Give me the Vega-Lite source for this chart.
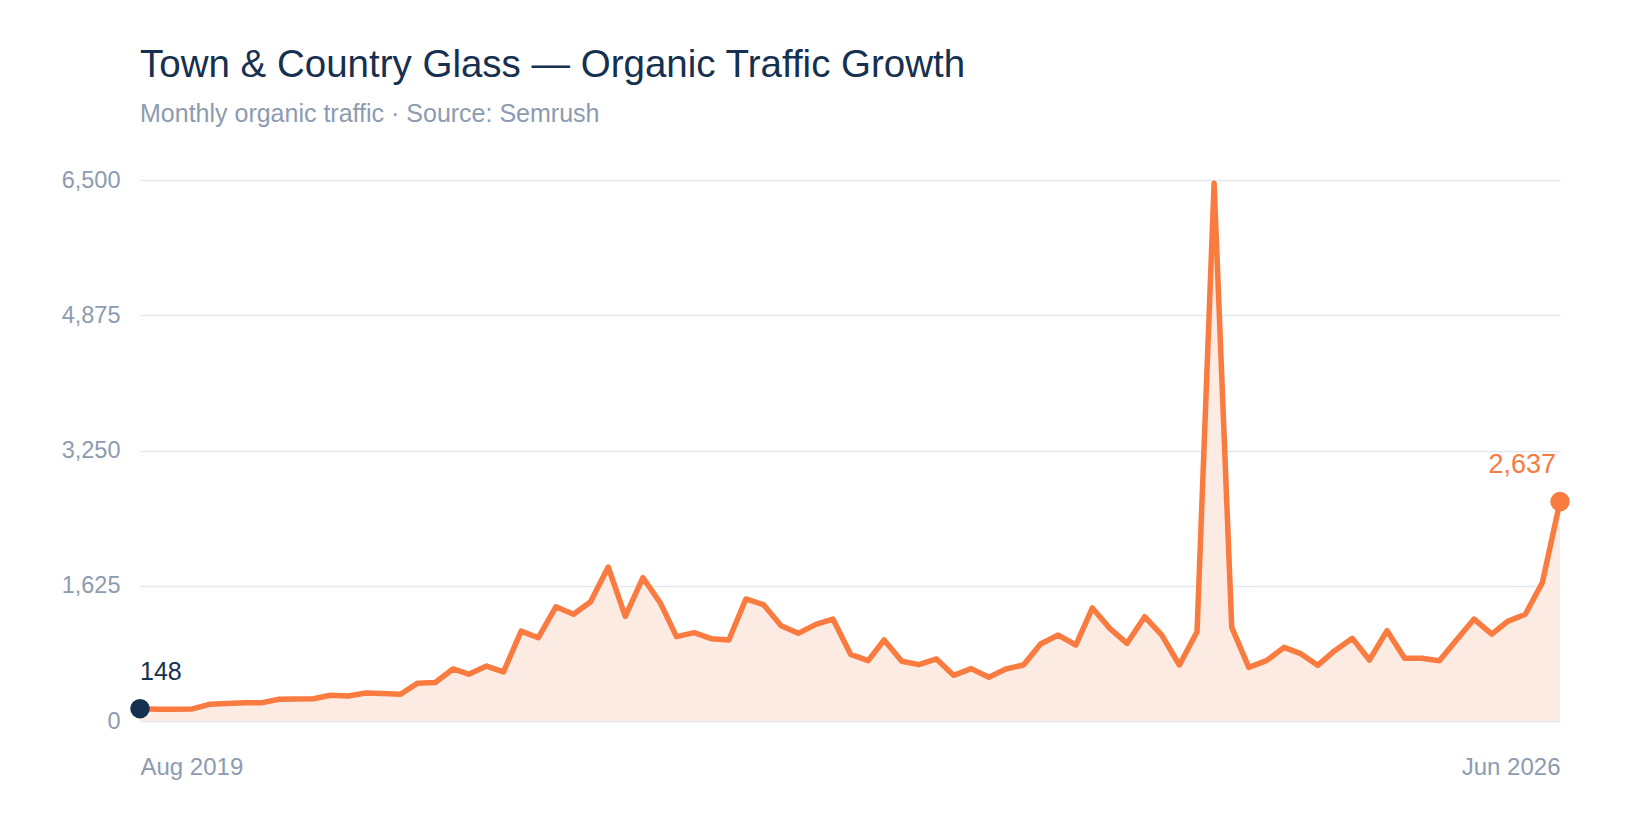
{
  "$schema": "https://vega.github.io/schema/vega-lite/v6.json",
  "width": 1420,
  "height": 541,
  "autosize": "none",
  "padding": {"left": 140, "top": 180, "right": 80, "bottom": 119},
  "background": "#ffffff",
  "title": {
    "text": "Town & Country Glass — Organic Traffic Growth",
    "subtitle": "Monthly organic traffic · Source: Semrush",
    "anchor": "start",
    "frame": "group",
    "offset": 40,
    "font": "Liberation Sans",
    "fontSize": 38.5,
    "fontWeight": "normal",
    "color": "#16304f",
    "subtitleFont": "Liberation Sans",
    "subtitleFontSize": 25,
    "subtitleColor": "#8d9bb0",
    "subtitlePadding": 17
  },
  "data": {
    "values": [
      {"month": "2019-08-01", "traffic": 148},
      {"month": "2019-09-01", "traffic": 142},
      {"month": "2019-10-01", "traffic": 140},
      {"month": "2019-11-01", "traffic": 145},
      {"month": "2019-12-01", "traffic": 200},
      {"month": "2020-01-01", "traffic": 210},
      {"month": "2020-02-01", "traffic": 218},
      {"month": "2020-03-01", "traffic": 218},
      {"month": "2020-04-01", "traffic": 262},
      {"month": "2020-05-01", "traffic": 265},
      {"month": "2020-06-01", "traffic": 268},
      {"month": "2020-07-01", "traffic": 310},
      {"month": "2020-08-01", "traffic": 300},
      {"month": "2020-09-01", "traffic": 336},
      {"month": "2020-10-01", "traffic": 330},
      {"month": "2020-11-01", "traffic": 322},
      {"month": "2020-12-01", "traffic": 455},
      {"month": "2021-01-01", "traffic": 462},
      {"month": "2021-02-01", "traffic": 625},
      {"month": "2021-03-01", "traffic": 562},
      {"month": "2021-04-01", "traffic": 660},
      {"month": "2021-05-01", "traffic": 590},
      {"month": "2021-06-01", "traffic": 1080},
      {"month": "2021-07-01", "traffic": 1000},
      {"month": "2021-08-01", "traffic": 1372},
      {"month": "2021-09-01", "traffic": 1282},
      {"month": "2021-10-01", "traffic": 1432},
      {"month": "2021-11-01", "traffic": 1850},
      {"month": "2021-12-01", "traffic": 1258},
      {"month": "2022-01-01", "traffic": 1722},
      {"month": "2022-02-01", "traffic": 1414},
      {"month": "2022-03-01", "traffic": 1013},
      {"month": "2022-04-01", "traffic": 1061},
      {"month": "2022-05-01", "traffic": 989},
      {"month": "2022-06-01", "traffic": 973},
      {"month": "2022-07-01", "traffic": 1466},
      {"month": "2022-08-01", "traffic": 1398},
      {"month": "2022-09-01", "traffic": 1145},
      {"month": "2022-10-01", "traffic": 1053},
      {"month": "2022-11-01", "traffic": 1161},
      {"month": "2022-12-01", "traffic": 1225},
      {"month": "2023-01-01", "traffic": 801},
      {"month": "2023-02-01", "traffic": 725},
      {"month": "2023-03-01", "traffic": 973},
      {"month": "2023-04-01", "traffic": 717},
      {"month": "2023-05-01", "traffic": 677},
      {"month": "2023-06-01", "traffic": 745},
      {"month": "2023-07-01", "traffic": 549},
      {"month": "2023-08-01", "traffic": 629},
      {"month": "2023-09-01", "traffic": 525},
      {"month": "2023-10-01", "traffic": 625},
      {"month": "2023-11-01", "traffic": 673},
      {"month": "2023-12-01", "traffic": 925},
      {"month": "2024-01-01", "traffic": 1033},
      {"month": "2024-02-01", "traffic": 913},
      {"month": "2024-03-01", "traffic": 1358},
      {"month": "2024-04-01", "traffic": 1110},
      {"month": "2024-05-01", "traffic": 933},
      {"month": "2024-06-01", "traffic": 1253},
      {"month": "2024-07-01", "traffic": 1033},
      {"month": "2024-08-01", "traffic": 673},
      {"month": "2024-09-01", "traffic": 1073},
      {"month": "2024-10-01", "traffic": 6460},
      {"month": "2024-11-01", "traffic": 1125},
      {"month": "2024-12-01", "traffic": 645},
      {"month": "2025-01-01", "traffic": 725},
      {"month": "2025-02-01", "traffic": 885},
      {"month": "2025-03-01", "traffic": 813},
      {"month": "2025-04-01", "traffic": 669},
      {"month": "2025-05-01", "traffic": 845},
      {"month": "2025-06-01", "traffic": 993},
      {"month": "2025-07-01", "traffic": 733},
      {"month": "2025-08-01", "traffic": 1085},
      {"month": "2025-09-01", "traffic": 753},
      {"month": "2025-10-01", "traffic": 753},
      {"month": "2025-11-01", "traffic": 725},
      {"month": "2025-12-01", "traffic": 973},
      {"month": "2026-01-01", "traffic": 1225},
      {"month": "2026-02-01", "traffic": 1043},
      {"month": "2026-03-01", "traffic": 1197},
      {"month": "2026-04-01", "traffic": 1282},
      {"month": "2026-05-01", "traffic": 1662},
      {"month": "2026-06-01", "traffic": 2637}
    ]
  },
  "encoding": {
    "x": {
      "field": "month",
      "type": "temporal",
      "title": null,
      "scale": {"type": "utc"},
      "axis": {
        "values": [
          {"year": 2019, "month": "aug", "date": 1, "utc": true},
          {"year": 2026, "month": "jun", "date": 1, "utc": true}
        ],
        "format": "%b %Y",
        "labelFlush": true,
        "labelPadding": 34,
        "ticks": false,
        "tickSize": 0,
        "domain": false,
        "grid": false,
        "labelFont": "Liberation Sans",
        "labelFontSize": 24,
        "labelColor": "#8d9bb0"
      }
    },
    "y": {
      "field": "traffic",
      "type": "quantitative",
      "title": null,
      "scale": {"domain": [0, 6500], "nice": false},
      "axis": {
        "values": [0, 1625, 3250, 4875, 6500],
        "format": ",d",
        "domain": false,
        "ticks": false,
        "tickSize": 0,
        "labelPadding": 20,
        "labelFont": "Liberation Sans",
        "labelFontSize": 23.5,
        "labelColor": "#8d9bb0",
        "gridColor": "#e3e8ef",
        "gridWidth": 1.5
      }
    }
  },
  "layer": [
    {"mark": {"type": "area", "color": "#fcebe3"}},
    {"mark": {"type": "line", "color": "#f97b40", "strokeWidth": 5.5, "strokeJoin": "round", "strokeCap": "round"}},
    {
      "transform": [{"filter": "datum.traffic == 148"}],
      "layer": [
        {"mark": {"type": "point", "filled": true, "color": "#16304f", "size": 380, "opacity": 1}},
        {
          "mark": {"type": "text", "align": "left", "baseline": "alphabetic", "dy": -29, "font": "Liberation Sans", "fontSize": 25, "color": "#16304f"},
          "encoding": {"text": {"field": "traffic", "type": "quantitative", "format": ","}}
        }
      ]
    },
    {
      "transform": [{"filter": "datum.traffic == 2637"}],
      "layer": [
        {"mark": {"type": "point", "filled": true, "color": "#f97b40", "size": 380, "opacity": 1}},
        {
          "mark": {"type": "text", "align": "right", "baseline": "alphabetic", "dx": -4, "dy": -29, "font": "Liberation Sans", "fontSize": 27, "color": "#f97b40"},
          "encoding": {"text": {"field": "traffic", "type": "quantitative", "format": ","}}
        }
      ]
    }
  ],
  "config": {
    "view": {"stroke": null}
  }
}
